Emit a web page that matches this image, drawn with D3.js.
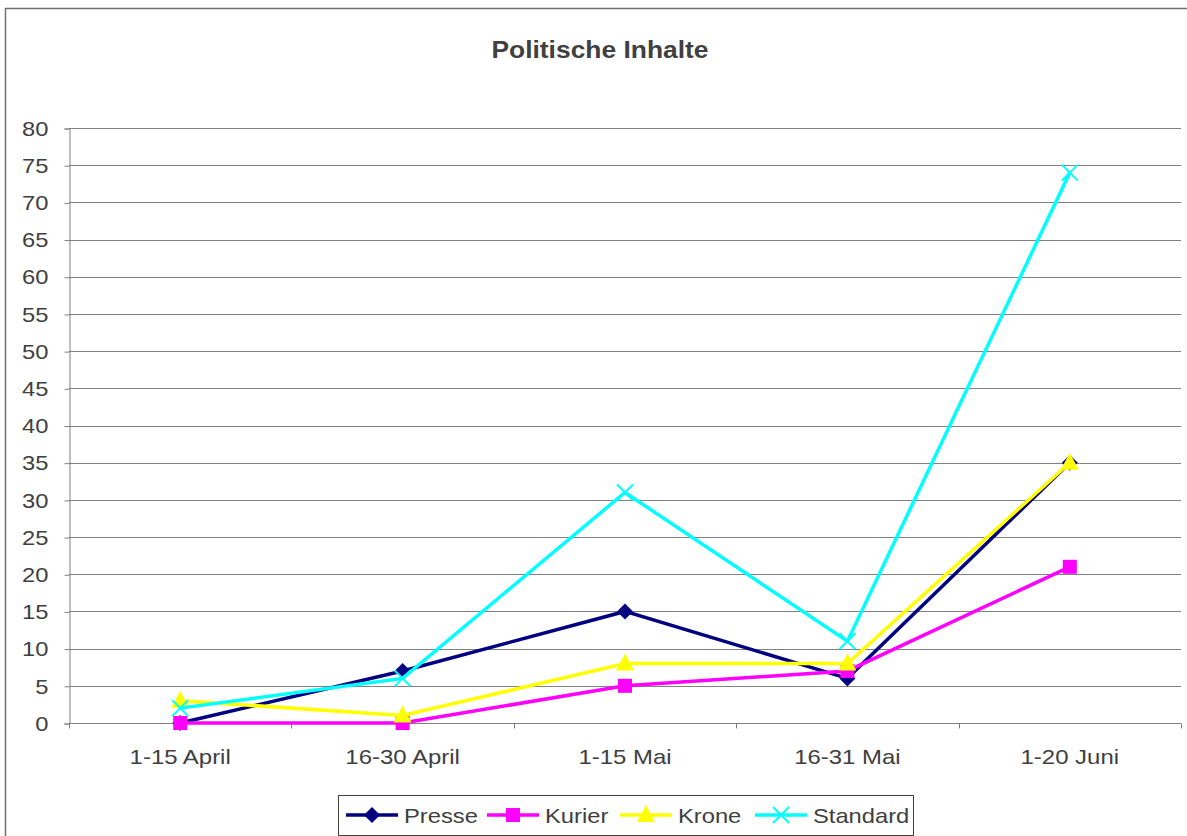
<!DOCTYPE html>
<html>
<head>
<meta charset="utf-8">
<script src="https://cdn.jsdelivr.net/npm/d3@7"></script>
<style>
  body { margin: 0; background: #fff; }
  text { font-family: "Liberation Sans", Arial, sans-serif; fill: #404040; }
</style>
</head>
<body>
<svg class="chart" width="1187" height="836"></svg>
<script>
// Data
let categories = ["1-15 April", "16-30 April", "1-15 Mai", "16-31 Mai", "1-20 Juni"];
let presse   = [0, 7, 15, 6, 35];
let kurier   = [0, 0, 5, 7, 21];
let krone    = [3, 1, 8, 8, 35];
let standard = [2, 6, 31, 11, 74];
let yTicks = d3.range(0, 81, 5);

let series = [
	{name: "Presse",   values: presse,   color: "#000080", symbol: "diamond"},
	{name: "Kurier",   values: kurier,   color: "#FF00FF", symbol: "square"},
	{name: "Krone",    values: krone,    color: "#FFFF00", symbol: "triangle"},
	{name: "Standard", values: standard, color: "#00FFFF", symbol: "cross"}
];

// the original text is a bit wider than Liberation Sans
function stretch(sel, k) {
	sel.each(function() {
		let len = this.getComputedTextLength();
		d3.select(this)
		  .attr("textLength", len * k)
		  .attr("lengthAdjust", "spacingAndGlyphs");
	});
}

var svg = d3.select(".chart");

// outer chart frame
svg.append("rect")
   .attr("x", 5.5).attr("y", 8.5)
   .attr("width", 1200).attr("height", 840)
   .attr("fill", "none")
   .attr("stroke", "#707070")
   .attr("stroke-width", 1.5);

let margin = {left: 69, right: 6, top: 128, bottom: 113};
let width = +svg.attr("width");
let height = +svg.attr("height");

var xScale = d3.scalePoint()
               .domain(categories)
               .range([margin.left, width - margin.right])
               .padding(0.5);
var yScale = d3.scaleLinear()
               .domain([0, 80])
               .range([height - margin.bottom, margin.top]);

// title
svg.append("text")
   .attr("x", 600)
   .attr("y", 58)
   .attr("text-anchor", "middle")
   .style("font-size", "24px")
   .style("font-weight", "bold")
   .text("Politische Inhalte")
   .call(stretch, 1.1);

// gridlines
svg.append("g")
   .selectAll("line")
   .data(yTicks.slice(1))
   .enter().append("line")
   .attr("x1", margin.left).attr("x2", width - margin.right)
   .attr("y1", d => Math.round(yScale(d)) + 0.5)
   .attr("y2", d => Math.round(yScale(d)) + 0.5)
   .attr("stroke", "#808080")
   .attr("stroke-width", 1);

// y axis
let yAxis = svg.append("g")
   .attr("transform", `translate(${margin.left + 0.5}, 0.5)`)
   .call(d3.axisLeft(yScale).tickValues(yTicks).tickSize(5).tickPadding(16).tickFormat(d3.format("d")));
yAxis.select(".domain").attr("stroke", "#808080");
yAxis.selectAll(".tick line").attr("stroke", "#808080");
yAxis.selectAll(".tick text")
     .style("font-size", "21px")
     .attr("fill", "#404040")
     .call(stretch, 1.13);

// x axis with ticks between categories
let step = xScale.step();
let xTickPos = d3.range(categories.length + 1).map(i => margin.left + i * step);
let xAxis = svg.append("g")
   .attr("transform", `translate(0, ${Math.round(yScale(0)) + 0.5})`);
xAxis.append("line")
   .attr("x1", margin.left).attr("x2", width - margin.right)
   .attr("stroke", "#808080");
xAxis.selectAll(".xtick")
   .data(xTickPos)
   .enter().append("line")
   .attr("x1", d => Math.round(d) + 0.5).attr("x2", d => Math.round(d) + 0.5)
   .attr("y1", 0).attr("y2", 5)
   .attr("stroke", "#808080");
xAxis.selectAll(".xlabel")
   .data(categories)
   .enter().append("text")
   .attr("x", d => xScale(d))
   .attr("y", 40)
   .attr("text-anchor", "middle")
   .style("font-size", "21px")
   .text(d => d)
   .call(stretch, 1.14);

// symbol paths
function marker(sel, symbol, color) {
	if (symbol == "diamond") {
		sel.append("path").attr("d", "M0,-8L8,0L0,8L-8,0Z").attr("fill", color);
	} else if (symbol == "square") {
		sel.append("rect").attr("x", -7).attr("y", -7).attr("width", 14).attr("height", 14).attr("fill", color);
	} else if (symbol == "triangle") {
		sel.append("path").attr("d", "M0,-10L9,7L-9,7Z").attr("fill", color);
	} else {
		sel.append("path").attr("d", "M-8,-8L8,8M8,-8L-8,8")
		   .attr("stroke", color).attr("stroke-width", 2).attr("fill", "none");
	}
}

let line = d3.line()
             .x((d, i) => xScale(categories[i]))
             .y(d => yScale(d));

for (let s of series) {
	svg.append("path")
	   .datum(s.values)
	   .attr("fill", "none")
	   .attr("stroke", s.color)
	   .attr("stroke-width", 3.5)
	   .attr("d", line);
	s.values.forEach((v, i) => {
		let g = svg.append("g")
		           .attr("transform", `translate(${xScale(categories[i])}, ${yScale(v)})`);
		marker(g, s.symbol, s.color);
	});
}

// legend
svg.append("rect")
   .attr("x", 338.5).attr("y", 795.5)
   .attr("width", 575).attr("height", 40)
   .attr("fill", "#fff")
   .attr("stroke", "#404040")
   .attr("stroke-width", 1);

let legendX = [346, 487, 620, 755];
series.forEach((s, i) => {
	let g = svg.append("g").attr("transform", `translate(${legendX[i]}, 815)`);
	g.append("line")
	 .attr("x1", 0).attr("x2", 52)
	 .attr("stroke", s.color)
	 .attr("stroke-width", 3.5);
	let m = g.append("g").attr("transform", "translate(26, 0)");
	marker(m, s.symbol, s.color);
	g.append("text")
	 .attr("x", 58)
	 .attr("y", 8)
	 .style("font-size", "21px")
	 .text(s.name)
	 .call(stretch, 1.13);
});
</script>
</body>
</html>
